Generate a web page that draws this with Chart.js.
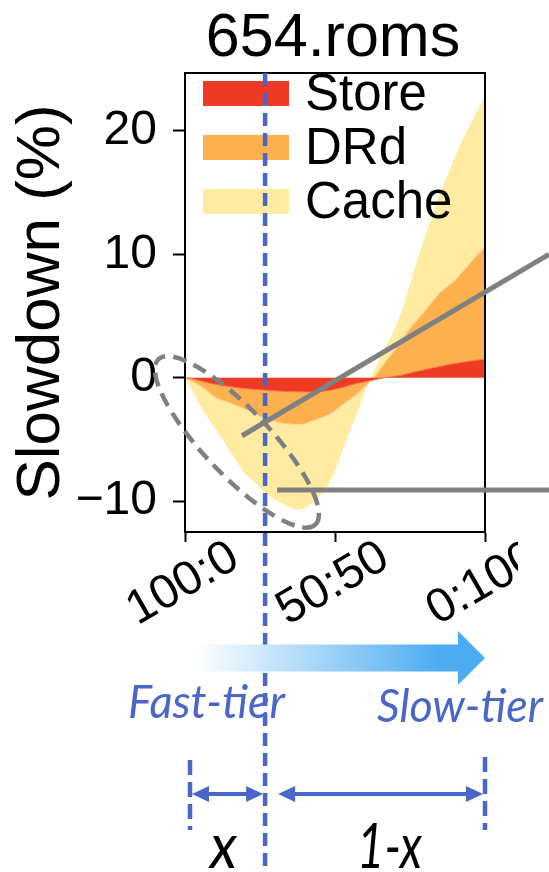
<!DOCTYPE html>
<html>
<head>
<meta charset="utf-8">
<script src="https://cdn.jsdelivr.net/npm/chart.js@4.4.1/dist/chart.umd.min.js"></script>
<style>
    html, body { margin: 0; padding: 0; background: #fff; }
</style>
</head>
<body>
<canvas id="roms-chart" width="549" height="872"></canvas>
<script>
var roms_chart;

// share of pages on the slow tier (%), 0 = 100:0, 100 = 0:100
const slowShare = [0, 2.5, 5, 7.5, 10, 12.5, 15, 17.5, 20, 22.5, 25, 27.5, 30, 32.5, 35, 37.5, 40,
    42.5, 45, 47.5, 50, 52.5, 55, 57.5, 60, 62.5, 65, 67.5, 70, 72.5, 75, 77.5, 80, 82.5, 85, 87.5,
    90, 92.5, 95, 97.5, 100];

// slowdown breakdown (%), stacked store -> drd -> cache
const store = [0, -0.08, -0.25, -0.4, -0.52, -0.62, -0.72, -0.8, -0.87, -0.93, -0.98, -1.02, -1.06,
    -1.1, -1.12, -1.14, -1.15, -1.15, -1.12, -1.05, -0.92, -0.78, -0.6, -0.45, -0.32, -0.2, -0.05,
    0.05, 0.12, 0.22, 0.38, 0.52, 0.65, 0.8, 0.92, 1.05, 1.15, 1.25, 1.35, 1.43, 1.5];
const drd = [0, -0.22, -0.40, -0.70, -1.08, -1.23, -1.33, -1.50, -1.68, -1.87, -2.17, -2.38, -2.49,
    -2.60, -2.63, -2.66, -2.60, -2.35, -2.18, -2.00, -1.78, -1.42, -1.15, -0.85, -0.43, 0.10, 0.75,
    1.50, 2.18, 2.98, 3.62, 4.23, 4.80, 5.40, 6.03, 6.35, 6.75, 7.35, 7.95, 8.57, 9.10];
const cache = [0, -0.8, -1.55, -2.1, -2.5, -3.15, -3.95, -4.6, -5.25, -5.5, -5.75, -6.1, -6.35,
    -6.5, -6.75, -6.9, -6.85, -6.6, -6.3, -5.75, -4.9, -3.7, -2.55, -1.5, -0.35, 0.4, 0.9, 1.25,
    1.7, 2.4, 3.6, 4.85, 5.95, 6.9, 8.05, 9.0, 10.0, 10.7, 11.2, 11.7, 12.2];

const seriesLabels = ['Store', 'DRd', 'Cache'];
const xTickValues = [0, 50, 100];
const xTickLabels = ['100:0', '50:50', '0:100'];
const yTickValues = [-10, 0, 10, 20];
const splitShare = 26.7;   // fast / slow split (dashed line)

const BLUE = '#4B66C9';
const GREY = '#808080';
const FONT = "'Liberation Sans', Arial, Helvetica, sans-serif";

Chart.defaults.font.family = FONT;
Chart.defaults.color = '#000';

window.onload = function() {
    draw_chart();
}

function stackUp(parts) {
    let run = slowShare.map(() => 0);
    return parts.map(function(p) {
        run = run.map((v, i) => v + p[i]);
        return run.map((v, i) => ({ x: slowShare[i], y: +v.toFixed(3) }));
    });
}

function fitText(ctx, text, left, baseline, width, font, color) {
    ctx.save();
    ctx.font = font;
    ctx.fillStyle = color;
    ctx.textAlign = 'left';
    ctx.textBaseline = 'alphabetic';
    const w = ctx.measureText(text).width;
    ctx.translate(left, baseline);
    ctx.scale(width / w, 1);
    ctx.fillText(text, 0, 0);
    ctx.restore();
}

function arrowHead(ctx, x, y, dir) {
    ctx.beginPath();
    ctx.moveTo(x, y);
    ctx.lineTo(x - dir * 17, y - 8);
    ctx.lineTo(x - dir * 17, y + 8);
    ctx.closePath();
    ctx.fill();
}

function dimArrow(ctx, x1, x2, y) {
    ctx.beginPath();
    ctx.moveTo(x1 + 8, y);
    ctx.lineTo(x2 - 8, y);
    ctx.stroke();
    arrowHead(ctx, x1, y, -1);
    arrowHead(ctx, x2, y, 1);
}

const decorations = {
    id: 'decorations',
    afterDatasetsDraw(chart) {
        const ctx = chart.ctx;
        const ca = chart.chartArea;
        ctx.save();
        // frame
        ctx.strokeStyle = '#000';
        ctx.lineWidth = 2;
        ctx.strokeRect(ca.left, ca.top, ca.right - ca.left, ca.bottom - ca.top);
        // legend inside the axes
        chart.data.datasets.forEach(function(ds, i) {
            const cy = ca.top + 20.5 + i * 54;
            ctx.fillStyle = ds.backgroundColor;
            ctx.fillRect(ca.left + 18, cy - 12.5, 86, 25);
            ctx.fillStyle = '#000';
            ctx.font = '51px ' + FONT;
            ctx.textBaseline = 'middle';
            ctx.textAlign = 'left';
            ctx.fillText(ds.label, ca.left + 120, cy + 2);
        });
        ctx.restore();
    },
    afterDraw(chart) {
        const ctx = chart.ctx;
        const ca = chart.chartArea;
        const xs = chart.scales.x;
        const ys = chart.scales.y;
        ctx.save();

        // title
        ctx.fillStyle = '#000';
        ctx.font = '61px ' + FONT;
        ctx.textAlign = 'center';
        ctx.textBaseline = 'alphabetic';
        ctx.fillText('654.roms', (ca.left + ca.right) / 2 - 2, 56);

        // rotated x tick labels, centred on the ticks (panel is cut at x = 518)
        ctx.save();
        ctx.beginPath();
        ctx.rect(0, ca.bottom, 518, 120);
        ctx.clip();
        ctx.font = '48px ' + FONT;
        ctx.textBaseline = 'middle';
        xTickValues.forEach(function(v, i) {
            ctx.save();
            ctx.translate(xs.getPixelForValue(v) - 2, ca.bottom + 52);
            ctx.rotate(-Math.PI / 6);
            ctx.fillText(xTickLabels[i], 0, 0);
            ctx.restore();
        });
        ctx.restore();

        // fast/slow split line
        const splitX = xs.getPixelForValue(splitShare);
        ctx.strokeStyle = BLUE;
        ctx.lineWidth = 4.5;
        ctx.setLineDash([13, 7]);
        ctx.beginPath();
        ctx.moveTo(splitX, ca.top);
        ctx.lineTo(splitX, chart.height);
        ctx.stroke();

        // grey ellipse around the fast-tier dip
        ctx.strokeStyle = GREY;
        ctx.lineWidth = 4.5;
        ctx.setLineDash([14, 8]);
        ctx.beginPath();
        ctx.ellipse(xs.getPixelForValue(17.3), ys.getPixelForValue(-5.2), 114, 33,
            46.5 * Math.PI / 180, 0, 2 * Math.PI);
        ctx.stroke();

        // grey pointer lines
        ctx.setLineDash([]);
        ctx.lineWidth = 5;
        ctx.beginPath();
        ctx.moveTo(xs.getPixelForValue(19), ys.getPixelForValue(-4.7));
        ctx.lineTo(xs.getPixelForValue(121.3), ys.getPixelForValue(10.0));
        ctx.moveTo(xs.getPixelForValue(30.7), ys.getPixelForValue(-9.1));
        ctx.lineTo(chart.width, ys.getPixelForValue(-9.1));
        ctx.stroke();

        // gradient arrow fast -> slow
        const ax0 = ca.left + 10, axHead = ca.right - 27, ay = 658;
        const grad = ctx.createLinearGradient(ax0, 0, ca.right - 45, 0);
        grad.addColorStop(0, 'rgba(255,255,255,1)');
        grad.addColorStop(1, '#4DACF1');
        ctx.fillStyle = grad;
        ctx.fillRect(ax0, ay - 13.5, axHead - ax0, 27);
        ctx.fillStyle = '#4DACF1';
        ctx.beginPath();
        ctx.moveTo(axHead, ay - 27);
        ctx.lineTo(ca.right, ay);
        ctx.lineTo(axHead, ay + 27);
        ctx.closePath();
        ctx.fill();

        fitText(ctx, 'Fast-tier', 128, 718, 157, 'italic 47px Lato, "Open Sans", sans-serif', BLUE);
        fitText(ctx, 'Slow-tier', 377, 722, 166, 'italic 47px Lato, "Open Sans", sans-serif', BLUE);

        // dimension markers
        ctx.strokeStyle = BLUE;
        ctx.fillStyle = BLUE;
        ctx.lineWidth = 4.5;
        ctx.setLineDash([15, 7]);
        ctx.beginPath();
        ctx.moveTo(ca.left + 5, 760);
        ctx.lineTo(ca.left + 5, 830);
        ctx.moveTo(ca.right, 757);
        ctx.lineTo(ca.right, 830);
        ctx.stroke();
        ctx.setLineDash([]);
        ctx.lineWidth = 4;
        dimArrow(ctx, ca.left + 7, splitX - 2, 794);
        dimArrow(ctx, splitX + 13, ca.right - 2, 794);

        fitText(ctx, 'x', 210, 868, 27, 'italic 62px Lato, "Open Sans", sans-serif', '#000');
        fitText(ctx, '1-x', 357, 868, 65, 'italic 62px Lato, "Open Sans", sans-serif', '#000');

        ctx.restore();
    }
};

function draw_chart() {
    const ctx = document.getElementById('roms-chart').getContext('2d');
    const stacked = stackUp([store, drd, cache]);
    if (roms_chart) {
        roms_chart.destroy();
    }
    roms_chart = new Chart(ctx, {
        type: 'line',
        data: {
            datasets: [
                {
                    label: seriesLabels[0],
                    data: stacked[0],
                    backgroundColor: '#EF3B23',
                    borderColor: '#F8704A',
                    borderWidth: 1,
                    pointRadius: 0,
                    fill: 'origin'
                },
                {
                    label: seriesLabels[1],
                    data: stacked[1],
                    backgroundColor: '#FCB04E',
                    borderColor: '#FFD79E',
                    borderWidth: 1.2,
                    pointRadius: 0,
                    fill: '-1'
                },
                {
                    label: seriesLabels[2],
                    data: stacked[2],
                    backgroundColor: '#FFEBA1',
                    borderColor: '#FFEBA1',
                    borderWidth: 0,
                    pointRadius: 0,
                    fill: '-1'
                }
            ]
        },
        options: {
            responsive: false,
            animation: false,
            layout: {
                padding: { top: 73, right: 64, left: 0, bottom: 0 }
            },
            plugins: {
                legend: { display: false },
                title: { display: false },
                tooltip: { enabled: false }
            },
            scales: {
                x: {
                    type: 'linear',
                    min: 0,
                    max: 100,
                    afterBuildTicks: function(scale) {
                        scale.ticks = xTickValues.map(v => ({ value: v }));
                    },
                    afterFit: function(scale) {
                        scale.height = 340;
                    },
                    ticks: { display: false },
                    grid: {
                        drawOnChartArea: false,
                        drawTicks: true,
                        tickLength: 10,
                        tickWidth: 2,
                        tickColor: '#000'
                    },
                    border: { display: true, color: '#000', width: 2 }
                },
                y: {
                    min: -12.5,
                    max: 24.7,
                    afterBuildTicks: function(scale) {
                        scale.ticks = yTickValues.map(v => ({ value: v }));
                    },
                    afterFit: function(scale) {
                        scale.width = 185;
                    },
                    ticks: {
                        font: { size: 48 },
                        padding: 16,
                        callback: v => (v < 0 ? '\u2212' + Math.abs(v) : '' + v)
                    },
                    grid: {
                        drawOnChartArea: false,
                        drawTicks: true,
                        tickLength: 12,
                        tickWidth: 2,
                        tickColor: '#000'
                    },
                    border: { display: true, color: '#000', width: 2 },
                    title: {
                        display: true,
                        text: 'Slowdown (%)',
                        font: { size: 62 },
                        padding: { top: 5, bottom: 0 }
                    }
                }
            }
        },
        plugins: [decorations]
    });
}
</script>
</body>
</html>
